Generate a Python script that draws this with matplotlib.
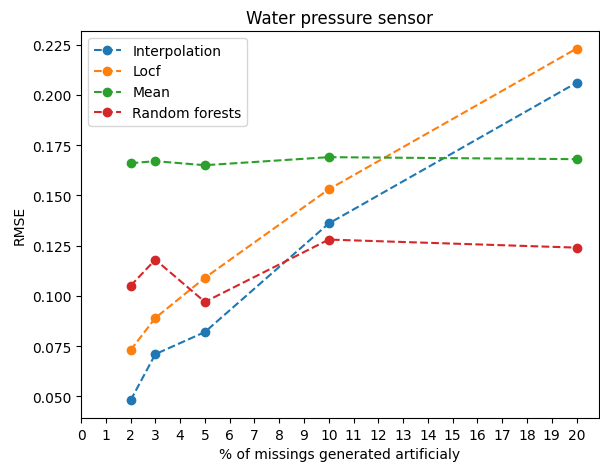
import matplotlib
matplotlib.use("Agg")
import matplotlib.pyplot as plt

# Missing rate (%) and RMSE for each imputation method
missing = [2, 3, 5, 10, 20]
interpolation = [0.048, 0.071, 0.082, 0.136, 0.206]
locf = [0.073, 0.089, 0.109, 0.153, 0.223]
mean = [0.166, 0.167, 0.165, 0.169, 0.168]
random_forests = [0.105, 0.118, 0.097, 0.128, 0.124]

fig = plt.figure(figsize=(6.0, 4.64), dpi=100)
ax = fig.add_subplot(111)
fig.subplots_adjust(left=0.135, right=0.998, top=0.931, bottom=0.097)

ax.plot(missing, interpolation, "o--", label="Interpolation")
ax.plot(missing, locf, "o--", label="Locf")
ax.plot(missing, mean, "o--", label="Mean")
ax.plot(missing, random_forests, "o--", label="Random forests")

ax.set_xticks(range(21))
ax.set_xlabel("% of missings generated artificialy")
ax.set_ylabel("RMSE")
ax.set_title("Water pressure sensor")
ax.legend(loc="upper left")

fig.savefig("out.png", dpi=100)
